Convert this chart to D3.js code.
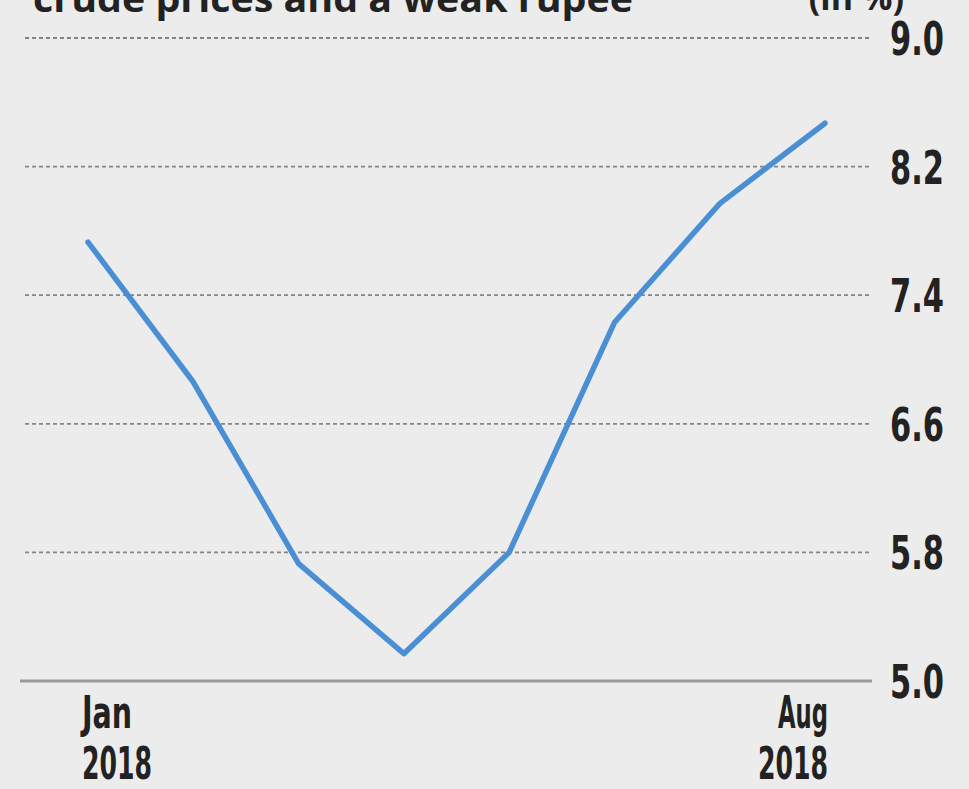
<!DOCTYPE html>
<html>
<head>
<meta charset="utf-8">
<script src="https://cdn.jsdelivr.net/npm/d3@7"></script>
<style>
  html, body { margin: 0; padding: 0; background: #ececec; }
  svg { display: block; }
</style>
</head>
<body>
<svg id="chart" width="969" height="789"></svg>
<script>
// monthly values, Jan..Aug 2018
var months = ["Jan", "Feb", "Mar", "Apr", "May", "Jun", "Jul", "Aug"];
var values = [7.73, 6.86, 5.73, 5.17, 5.80, 7.23, 7.97, 8.47];
var yTicks = [5.0, 5.8, 6.6, 7.4, 8.2, 9.0];
var xLabels = [{ m: "Jan", year: "2018" }, { m: "Aug", year: "2018" }];

var svg = d3.select("#chart");
var W = 969, H = 789;

svg.append("rect").attr("width", W).attr("height", H).attr("fill", "#ececec");

var x = d3.scalePoint().domain(months).range([88, 825]);
var y = d3.scaleLinear().domain([5.0, 9.0]).range([681, 38]);

var narrow = "'DejaVu Sans Condensed', 'Liberation Sans Narrow', sans-serif";

// title, mostly cut off at the top edge
svg.append("text")
  .attr("x", 33).attr("y", 12)
  .attr("font-family", "'Open Sans', sans-serif")
  .attr("font-weight", 700)
  .attr("font-size", 38)
  .attr("textLength", 600)
  .attr("lengthAdjust", "spacingAndGlyphs")
  .attr("fill", "#222")
  .text("crude prices and a weak rupee");

svg.append("text")
  .attr("x", 904).attr("y", 10)
  .attr("text-anchor", "end")
  .attr("font-family", "'Open Sans', sans-serif")
  .attr("font-weight", 700)
  .attr("font-size", 34)
  .attr("fill", "#222")
  .text("(in %)");

// gridlines (dashed), baseline solid
svg.append("g").selectAll("line")
  .data(yTicks.filter(function(d){ return d !== 5.0; }))
  .enter().append("line")
  .attr("x1", 25).attr("x2", 870)
  .attr("y1", function(d){ return y(d); })
  .attr("y2", function(d){ return y(d); })
  .attr("stroke", "#858585")
  .attr("stroke-width", 1.8)
  .attr("stroke-dasharray", "4,3");

svg.append("line")
  .attr("x1", 20).attr("x2", 872)
  .attr("y1", y(5.0)).attr("y2", y(5.0))
  .attr("stroke", "#9a9a9a")
  .attr("stroke-width", 3);

// y axis on the right, labels only
var yAxis = d3.axisRight(y).tickValues(yTicks).tickSize(0).tickPadding(0)
  .tickFormat(d3.format(".1f"));
var gy = svg.append("g").attr("transform", "translate(890,0)").call(yAxis);
gy.select(".domain").remove();
gy.selectAll("text")
  .attr("font-family", narrow)
  .attr("font-weight", 700)
  .attr("font-size", 46)
  .attr("textLength", 54)
  .attr("lengthAdjust", "spacingAndGlyphs")
  .attr("fill", "#222")
  .attr("dy", "0.36em");

// x labels
var gx = svg.append("g");
xLabels.forEach(function(l, i) {
  var anchor = i === 0 ? "start" : "end";
  var px = i === 0 ? x(l.m) - 6 : x(l.m) + 3;
  gx.append("text")
    .attr("x", px).attr("y", 728)
    .attr("text-anchor", anchor)
    .attr("font-family", narrow)
    .attr("font-weight", 700)
    .attr("font-size", 44)
    .attr("textLength", 50)
    .attr("lengthAdjust", "spacingAndGlyphs")
    .attr("fill", "#222")
    .text(l.m);
  gx.append("text")
    .attr("x", px).attr("y", 779)
    .attr("text-anchor", anchor)
    .attr("font-family", narrow)
    .attr("font-weight", 700)
    .attr("font-size", 44)
    .attr("textLength", 70)
    .attr("lengthAdjust", "spacingAndGlyphs")
    .attr("fill", "#222")
    .text(l.year);
});

// line
var line = d3.line()
  .x(function(d, i){ return x(months[i]); })
  .y(function(d){ return y(d); });

svg.append("path")
  .datum(values)
  .attr("d", line)
  .attr("fill", "none")
  .attr("stroke", "#4a8fd4")
  .attr("stroke-width", 5.5)
  .attr("stroke-linejoin", "round")
  .attr("stroke-linecap", "round");
</script>
</body>
</html>
